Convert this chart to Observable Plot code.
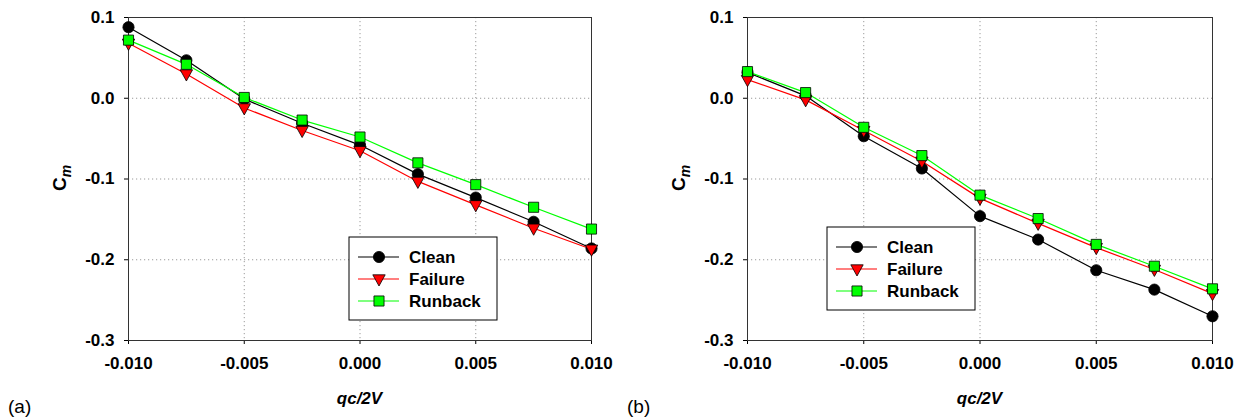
<!DOCTYPE html>
<html><head><meta charset="utf-8">
<script src="https://cdn.jsdelivr.net/npm/d3@7"></script>
<script src="https://cdn.jsdelivr.net/npm/@observablehq/plot@0.6"></script>
<style>
body{margin:0;background:#fff;font-family:Arial,"Liberation Sans",sans-serif;}
#wrap{display:flex;width:1238px;height:420px;}
.panel{position:relative;width:619px;height:420px;}
</style></head><body><div id="wrap"></div>
<script>
const qc = [-0.01, -0.0075, -0.005, -0.0025, 0, 0.0025, 0.005, 0.0075, 0.01];
const cleanA   = [0.088, 0.047, -0.001, -0.031, -0.058, -0.094, -0.123, -0.153, -0.186];
const failureA = [0.068, 0.030, -0.012, -0.040, -0.065, -0.103, -0.132, -0.161, -0.187];
const runbackA = [0.072, 0.042, 0.001, -0.027, -0.048, -0.080, -0.107, -0.135, -0.162];
const cleanB   = [0.032, 0.003, -0.047, -0.087, -0.146, -0.175, -0.213, -0.237, -0.270];
const failureB = [0.023, -0.002, -0.040, -0.078, -0.124, -0.155, -0.185, -0.212, -0.242];
const runbackB = [0.033, 0.007, -0.036, -0.071, -0.120, -0.149, -0.181, -0.208, -0.236];
const xTicks = [-0.01, -0.005, 0, 0.005, 0.01];
const yTicks = [0.1, 0, -0.1, -0.2, -0.3];
const xGrid = [-0.005, 0, 0.005];
const yGrid = [0, -0.1, -0.2];
const seriesNames = ["Clean", "Failure", "Runback"];
const seriesColors = ["#000000", "#ff0000", "#00ff00"];
const panelLabels = ["(a)", "(b)"];

const FONT = 'Arial, "Liberation Sans", sans-serif';

const downTriangle = {
  draw(ctx, size) {
    const r = Math.sqrt(size / Math.PI);
    const k = r / 5.5;
    ctx.moveTo(-6.2 * k, -4.2 * k);
    ctx.lineTo(6.2 * k, -4.2 * k);
    ctx.lineTo(0, 7 * k);
    ctx.closePath();
  }
};
const symbols = [d3.symbolCircle, downTriangle, d3.symbolSquare];
const radii = [5.6, 5.5, 5.7];

function makePanel(series, legendPos, label, marginRight) {
  const rows = [];
  series.forEach((vals, si) => vals.forEach((v, i) => rows.push({x: qc[i], y: v, s: si})));
  const marks = [
    Plot.gridX(xGrid, {stroke: "#9a9a9a", strokeOpacity: 1, strokeDasharray: "1.2,2.8"}),
    Plot.gridY(yGrid, {stroke: "#9a9a9a", strokeOpacity: 1, strokeDasharray: "1.2,2.8"}),
    Plot.axisX(xTicks, {tickSize: 4, tickPadding: 12, tickFormat: d => d.toFixed(3), label: null, fontWeight: "bold", fontSize: 17}),
    Plot.axisY(yTicks, {tickSize: 4, tickPadding: 10, tickFormat: d => d.toFixed(1), label: null, fontWeight: "bold", fontSize: 17}),
    Plot.frame({stroke: "#333"})
  ];
  series.forEach((vals, si) => {
    const d = rows.filter(r => r.s === si);
    marks.push(Plot.line(d, {x: "x", y: "y", stroke: seriesColors[si], strokeWidth: 1.2}));
  });
  series.forEach((vals, si) => {
    const d = rows.filter(r => r.s === si);
    marks.push(Plot.dot(d, {x: "x", y: "y", symbol: symbols[si], r: radii[si], fill: seriesColors[si], stroke: "#000", strokeWidth: 0.8}));
  });
  const svg = Plot.plot({
    width: 619, height: 420,
    marginLeft: 128, marginRight, marginTop: 17, marginBottom: 80,
    x: {domain: [-0.01, 0.01]},
    y: {domain: [-0.3, 0.1]},
    style: {fontFamily: FONT, fontSize: "17px", color: "#000", background: "#fff", overflow: "visible"},
    marks
  });
  const s = d3.select(svg);
  const cx = 128 + (619 - 128 - marginRight) / 2;
  s.append("text").attr("x", cx).attr("y", 404).attr("text-anchor", "middle")
    .attr("font-family", FONT).attr("font-size", 17).attr("font-weight", "bold").attr("font-style", "italic")
    .text("qc/2V");
  const yl = s.append("text").attr("transform", "translate(66,178) rotate(-90)").attr("text-anchor", "middle")
    .attr("font-family", FONT).attr("font-size", 19).attr("font-weight", "bold");
  yl.append("tspan").text("C");
  yl.append("tspan").attr("font-size", 14).attr("font-style", "italic").attr("dy", 5).text("m");
  s.append("text").attr("x", 8).attr("y", 413).attr("text-anchor", "start").attr("font-family", FONT).attr("font-size", 19)
    .text(label);
  const [lx, ly] = legendPos;
  const g = s.append("g");
  g.append("rect").attr("x", lx).attr("y", ly).attr("width", 148).attr("height", 83)
    .attr("fill", "#fff").attr("stroke", "#000").attr("stroke-width", 1);
  seriesNames.forEach((n, i) => {
    const yy = ly + 20 + i * 22;
    g.append("line").attr("x1", lx + 9).attr("x2", lx + 50).attr("y1", yy).attr("y2", yy)
      .attr("stroke", seriesColors[i]).attr("stroke-width", 1.2);
    g.append("path").attr("transform", `translate(${lx + 30},${yy})`)
      .attr("d", d3.symbol(symbols[i], Math.PI * radii[i] * radii[i])())
      .attr("fill", seriesColors[i]).attr("stroke", "#000").attr("stroke-width", 0.8);
    g.append("text").attr("x", lx + 60).attr("y", yy + 6).attr("text-anchor", "start").attr("font-family", FONT)
      .attr("font-size", 17).attr("font-weight", "bold").text(n);
  });
  const div = document.createElement("div");
  div.className = "panel";
  div.appendChild(svg);
  return div;
}

const wrap = document.getElementById("wrap");
wrap.appendChild(makePanel([cleanA, failureA, runbackA], [349, 237], panelLabels[0], 28));
wrap.appendChild(makePanel([cleanB, failureB, runbackB], [208, 227], panelLabels[1], 26));
</script></body></html>
